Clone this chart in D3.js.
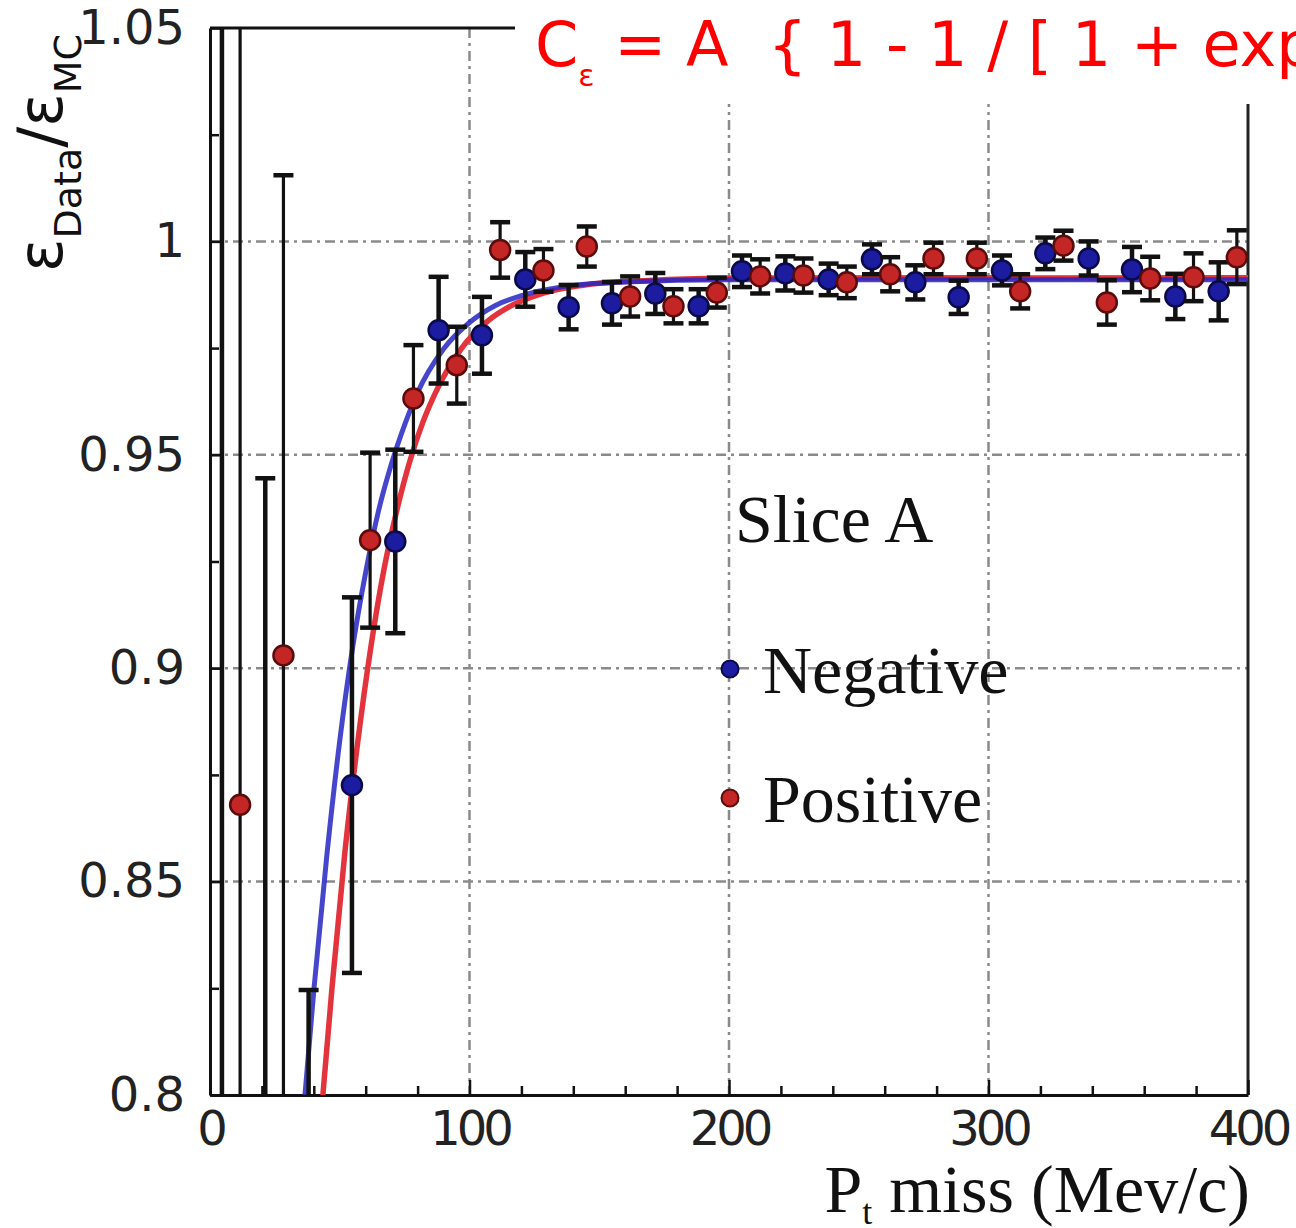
<!DOCTYPE html>
<html>
<head>
<meta charset="utf-8">
<script src="https://cdn.jsdelivr.net/npm/d3@7"></script>
<style>
    body { margin: 0; background: #fff; }
    svg { display: block; }
</style>
</head>
<body>
<script>
// Negative (blue) measurements
const negX   = [4.6, 21.3, 38.0, 54.7, 71.4, 88.1, 104.8, 121.5, 138.2, 154.9, 171.6, 188.3,
                205.0, 221.7, 238.4, 255.1, 271.8, 288.5, 305.2, 321.9, 338.6, 355.3, 372.0, 388.7];
const negVal = [0.70, 0.76, 0.79, 0.8726, 0.9297, 0.9792, 0.9780, 0.9911, 0.9846, 0.9855, 0.9878, 0.9848,
                0.9930, 0.9925, 0.9911, 0.9958, 0.9904, 0.9869, 0.9932, 0.9972, 0.9960, 0.9934, 0.9871, 0.9883];
const negErr = [0.40, 0.1845, 0.0346, 0.044, 0.0215, 0.0125, 0.009, 0.0064, 0.0052, 0.005, 0.0048, 0.004,
                0.0037, 0.004, 0.0037, 0.0035, 0.004, 0.0039, 0.0035, 0.0037, 0.004, 0.0053, 0.0053, 0.0068];

// Positive (red) measurements
const posX   = [11.6, 28.3, 45.0, 61.7, 78.4, 95.1, 111.8, 128.5, 145.2, 161.9, 178.6, 195.3,
                212.0, 228.7, 245.4, 262.1, 278.8, 295.5, 312.2, 328.9, 345.6, 362.3, 379.0, 395.7];
const posVal = [0.868, 0.903, 0.76, 0.930, 0.9632, 0.971, 0.998, 0.9932, 0.9988, 0.9871, 0.9848, 0.988,
                0.9918, 0.992, 0.9904, 0.9923, 0.9960, 0.9960, 0.9883, 0.9990, 0.9857, 0.9913, 0.9916, 0.9963];
const posErr = [0.30, 0.1125, 0.03, 0.0205, 0.0125, 0.009, 0.0065, 0.005, 0.0047, 0.0047, 0.004, 0.0035,
                0.004, 0.004, 0.0037, 0.004, 0.0037, 0.0037, 0.004, 0.0035, 0.0052, 0.0051, 0.0056, 0.0063];

// Fitted curves
const negFitX = [34, 36.6, 40, 45, 50, 55, 60, 65, 70, 75, 80, 90, 100, 110, 120, 140, 160, 200, 400];
const negFitY = [0.779, 0.800, 0.8245, 0.856, 0.883, 0.905, 0.9225, 0.937, 0.948, 0.957, 0.9646, 0.9748,
                 0.981, 0.985, 0.9873, 0.9897, 0.9905, 0.991, 0.991];
const posFitX = [41, 43.5, 47, 52, 57, 62, 67, 72, 77, 82, 87, 97, 107, 117, 127, 147, 167, 207, 400];
const posFitY = [0.780, 0.800, 0.825, 0.857, 0.883, 0.905, 0.923, 0.937, 0.9485, 0.9576, 0.9647, 0.975,
                 0.9813, 0.9852, 0.9876, 0.99, 0.9908, 0.9914, 0.9915];

// Axes
const xTicks = [0, 100, 200, 300, 400];
const xTickLabels = ["0", "100", "200", "300", "400"];
const xMinor = [20, 40, 60, 80, 120, 140, 160, 180, 220, 240, 260, 280, 320, 340, 360, 380];
const yTicks = [0.8, 0.85, 0.9, 0.95, 1.0, 1.05];
const yTickLabels = ["0.8", "0.85", "0.9", "0.95", "1", "1.05"];
const yMinor = [0.825, 0.875, 0.925, 0.975, 1.025];
const xGrid = [100, 200, 300];
const yGrid = [0.85, 0.9, 0.95, 1.0];

const W = 1296, H = 1228;
const pL = 210, pR = 1248, pT = 28, pB = 1095;

const x = d3.scaleLinear().domain([0, 400]).range([pL, pR]);
const y = d3.scaleLinear().domain([0.8, 1.05]).range([pB, pT]);

const svg = d3.select("body").append("svg")
    .attr("width", W)
    .attr("height", H);

svg.append("defs").append("clipPath")
    .attr("id", "plot")
  .append("rect")
    .attr("x", pL).attr("y", pT)
    .attr("width", pR - pL).attr("height", pB - pT);

// Grid
const grid = svg.append("g")
    .attr("stroke", "#8a8a8a")
    .attr("stroke-width", 2.5)
    .attr("stroke-dasharray", "10,5,3,5");
grid.selectAll(".gx").data(xGrid).enter().append("line")
    .attr("x1", (d) => x(d)).attr("x2", (d) => x(d))
    .attr("y1", pT).attr("y2", pB);
grid.selectAll(".gy").data(yGrid).enter().append("line")
    .attr("x1", pL).attr("x2", pR)
    .attr("y1", (d) => y(d)).attr("y2", (d) => y(d));

// Frame: top and right edges
svg.append("line")
    .attr("x1", pL).attr("x2", pR).attr("y1", pT).attr("y2", pT)
    .attr("stroke", "#111").attr("stroke-width", 3);
svg.append("line")
    .attr("x1", pR).attr("x2", pR).attr("y1", pT).attr("y2", pB)
    .attr("stroke", "#222").attr("stroke-width", 3);

// Axes
const yAxis = svg.append("g")
    .attr("transform", `translate(${pL},0)`)
    .call(d3.axisLeft(y).tickValues(yTicks).tickSizeInner(-14).tickSizeOuter(0).tickPadding(25)
        .tickFormat((d, i) => yTickLabels[i]));
svg.append("g")
    .attr("transform", `translate(${pL},0)`)
    .call(d3.axisLeft(y).tickValues(yMinor).tickSizeInner(-9).tickSizeOuter(0).tickFormat(""))
    .select(".domain").remove();

const xAxis = svg.append("g")
    .attr("transform", `translate(0,${pB})`)
    .call(d3.axisBottom(x).tickValues(xTicks).tickSizeInner(-15).tickSizeOuter(0).tickPadding(16)
        .tickFormat((d, i) => xTickLabels[i]));
svg.append("g")
    .attr("transform", `translate(0,${pB})`)
    .call(d3.axisBottom(x).tickValues(xMinor).tickSizeInner(-9).tickSizeOuter(0).tickFormat(""))
    .select(".domain").remove();

svg.selectAll(".domain").attr("stroke", "#111").attr("stroke-width", 3);
svg.selectAll(".tick line").attr("stroke", "#111").attr("stroke-width", 2.5);
yAxis.selectAll("text")
    .attr("font-family", "DejaVu Sans")
    .attr("font-size", 48)
    .attr("fill", "#222");
xAxis.selectAll("text")
    .attr("font-family", "DejaVu Sans")
    .attr("font-size", 48)
    .attr("letter-spacing", -4)
    .attr("fill", "#222");

// White box under the formula
svg.append("rect")
    .attr("x", 515).attr("y", 0)
    .attr("width", W - 515).attr("height", 104)
    .attr("fill", "#fff");

// Plot contents
const plot = svg.append("g").attr("clip-path", "url(#plot)");

const line = d3.line()
    .x((d) => x(d[0]))
    .y((d) => y(d[1]))
    .curve(d3.curveMonotoneX);

plot.append("path")
    .datum(d3.zip(posFitX, posFitY))
    .attr("d", line)
    .attr("fill", "none")
    .attr("stroke", "#e3333c")
    .attr("stroke-width", 5.5);
plot.append("path")
    .datum(d3.zip(negFitX, negFitY))
    .attr("d", line)
    .attr("fill", "none")
    .attr("stroke", "#2626c4")
    .attr("stroke-width", 5)
    .attr("stroke-opacity", 0.85);

function drawSeries(xs, vals, errs, fill, edge, lineW) {
    const data = xs.map((d, i) => ({x: d, v: vals[i], e: errs[i]}));
    const g = plot.append("g");
    const eb = g.append("g").attr("stroke", "#111");
    eb.selectAll(".bar").data(data).enter().append("line")
        .attr("x1", (d) => x(d.x)).attr("x2", (d) => x(d.x))
        .attr("y1", (d) => y(d.v - d.e)).attr("y2", (d) => y(d.v + d.e))
        .attr("stroke-width", lineW);
    eb.selectAll(".capTop").data(data).enter().append("line")
        .attr("x1", (d) => x(d.x) - 10).attr("x2", (d) => x(d.x) + 10)
        .attr("y1", (d) => y(d.v + d.e)).attr("y2", (d) => y(d.v + d.e))
        .attr("stroke-width", 4.5);
    eb.selectAll(".capBot").data(data).enter().append("line")
        .attr("x1", (d) => x(d.x) - 10).attr("x2", (d) => x(d.x) + 10)
        .attr("y1", (d) => y(d.v - d.e)).attr("y2", (d) => y(d.v - d.e))
        .attr("stroke-width", 4.5);
    g.selectAll("circle").data(data).enter().append("circle")
        .attr("cx", (d) => x(d.x))
        .attr("cy", (d) => y(d.v))
        .attr("r", 10)
        .attr("fill", fill)
        .attr("stroke", edge)
        .attr("stroke-width", 2.5);
}
drawSeries(negX, negVal, negErr, "#1c1ca0", "#0a0a4a", 4.5);
drawSeries(posX, posVal, posErr, "#c42626", "#5a0c0c", 3.2);

// Legend
svg.append("text")
    .attr("x", 735).attr("y", 542)
    .attr("font-family", "Liberation Serif")
    .attr("font-size", 68)
    .attr("fill", "#111")
    .text("Slice A");
const legend = [
    {label: "Negative", fill: "#1c1ca0", edge: "#0a0a4a", y: 669},
    {label: "Positive", fill: "#c42626", edge: "#5a0c0c", y: 798}
];
legend.forEach((d) => {
    svg.append("circle")
        .attr("cx", 730).attr("cy", d.y).attr("r", 8.5)
        .attr("fill", d.fill).attr("stroke", d.edge).attr("stroke-width", 2);
    svg.append("text")
        .attr("x", 763).attr("y", d.y + 24)
        .attr("font-family", "Liberation Serif")
        .attr("font-size", 68)
        .attr("fill", "#111")
        .text(d.label);
});

// Axis titles
const yt = svg.append("text")
    .attr("transform", "translate(62,272) rotate(-90)")
    .attr("font-family", "DejaVu Sans")
    .attr("fill", "#111");
yt.append("tspan").attr("font-size", 62).text("ε");
yt.append("tspan").attr("font-size", 38).attr("dy", 19).text("Data");
yt.append("tspan").attr("font-size", 62).attr("dy", -19).text("/ε");
yt.append("tspan").attr("font-size", 38).attr("dy", 19).text("MC");

const xt = svg.append("text")
    .attr("x", 1250).attr("y", 1212)
    .attr("text-anchor", "end")
    .attr("font-family", "Liberation Serif")
    .attr("font-size", 68)
    .attr("fill", "#111")
    .style("white-space", "pre");
xt.append("tspan").text("P");
xt.append("tspan").attr("font-size", 36).attr("dy", 12).text("t");
xt.append("tspan").attr("dy", -12).text(" miss (Mev/c)");

// Formula
const ft = svg.append("text")
    .attr("x", 535).attr("y", 66)
    .attr("font-family", "DejaVu Sans")
    .attr("font-size", 62)
    .attr("fill", "#ff0000")
    .style("white-space", "pre");
ft.append("tspan").text("C");
ft.append("tspan").attr("font-size", 30).attr("dy", 20).text("ε");
ft.append("tspan").attr("dy", -20).text(" = A  { 1 - 1 / [ 1 + exp");
</script>
</body>
</html>
